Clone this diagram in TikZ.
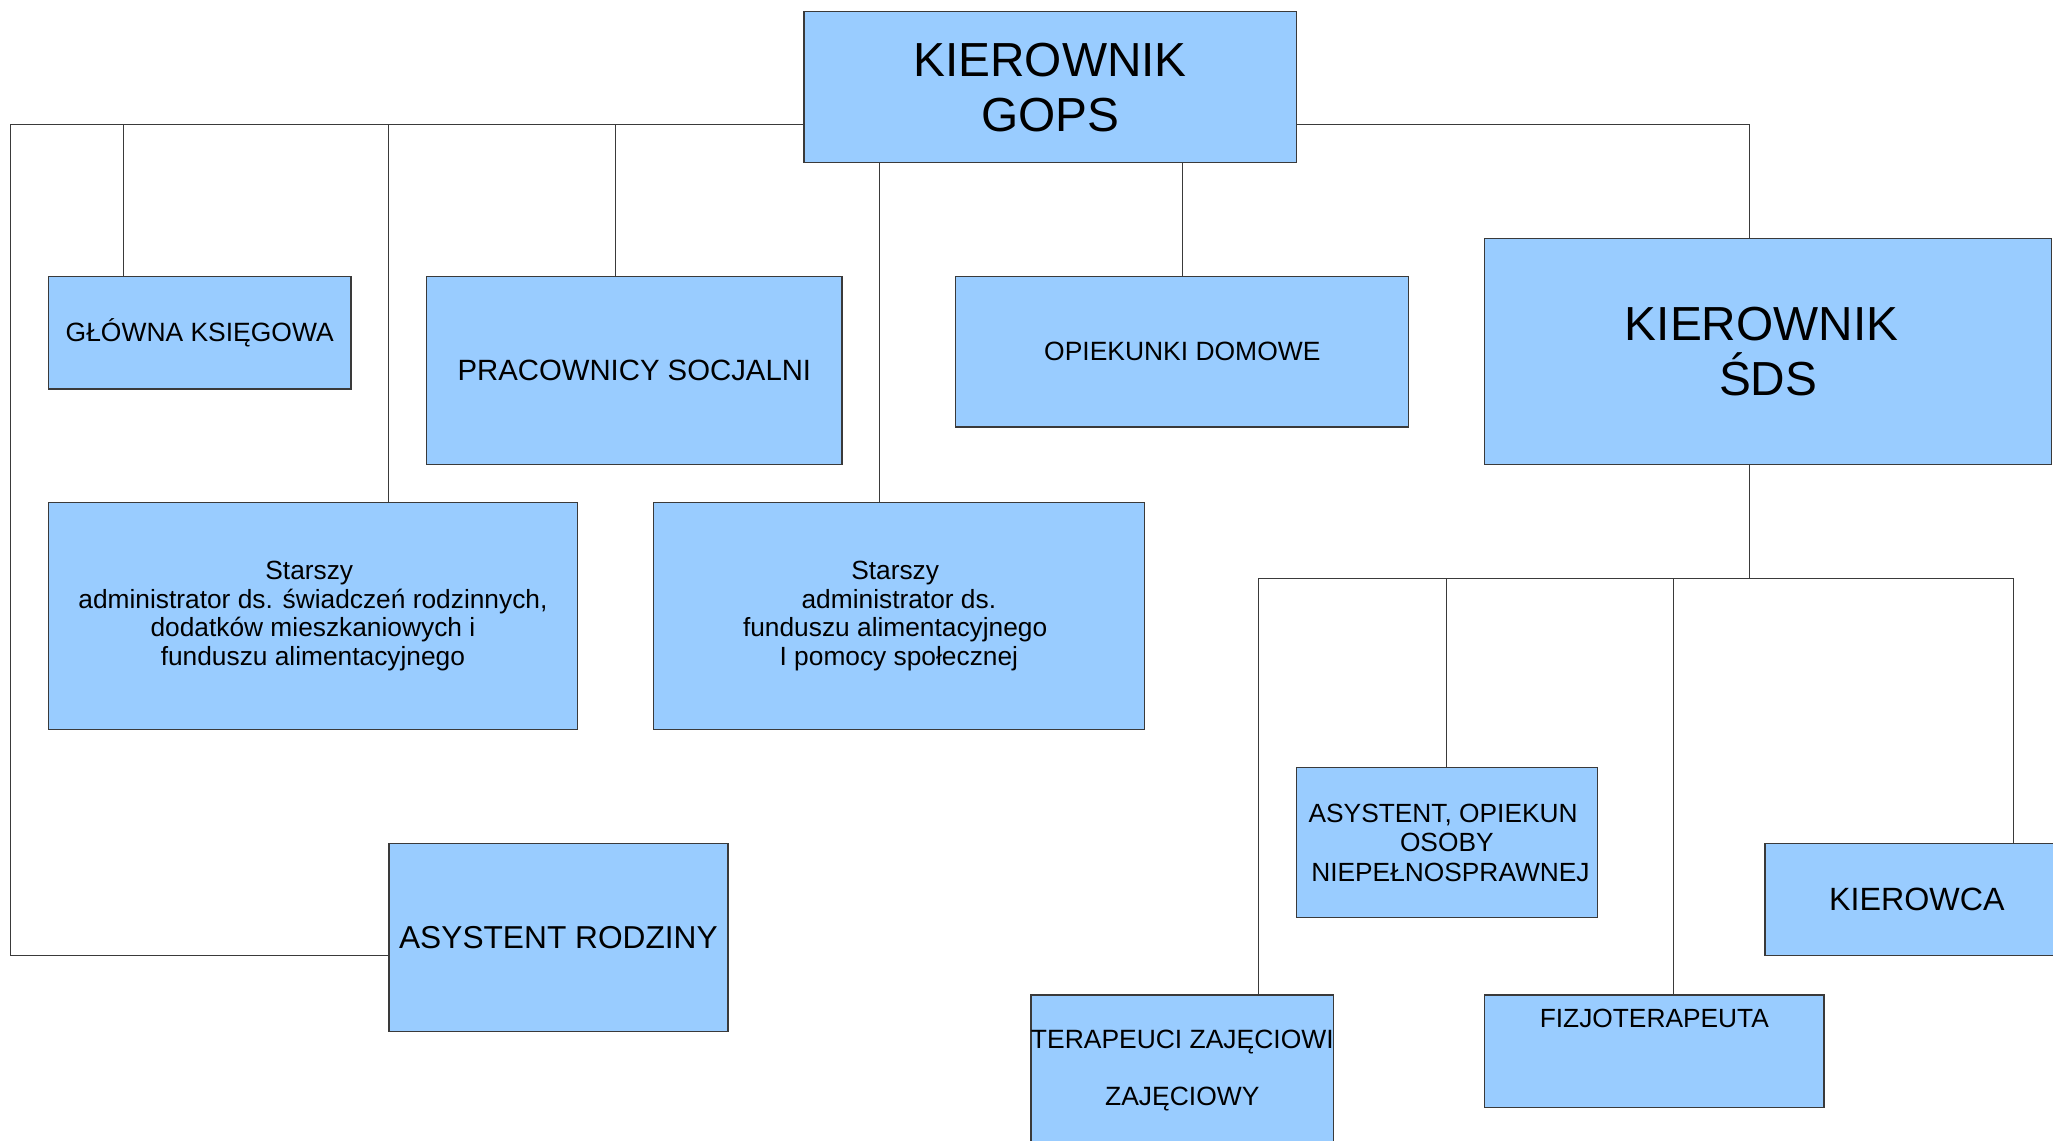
\documentclass[tikz,border=0pt]{standalone}
\usepackage{fontspec}
\setmainfont{Liberation Sans}
\usetikzlibrary{backgrounds}
\definecolor{boxblue}{HTML}{99CCFF}
\definecolor{edgegray}{HTML}{3A3A3A}
\begin{document}
\begin{tikzpicture}[x=1pt,y=-1pt,
  box/.style={draw=edgegray, line width=1pt, fill=boxblue, inner sep=0pt, outer sep=0pt, align=center, text=black},
  conn/.style={draw=edgegray, line width=0.8pt},
  txt/.style={inner sep=0pt, outer sep=0pt, align=center, text=black}]
\clip (0,0) rectangle (1568,870.7);
% boxes
\node[box, minimum width=376pt, minimum height=115pt, font=\fontsize{36.5}{42}\selectfont] (gops) at (802,66.5) {KIEROWNIK\\GOPS};
\node[box, minimum width=231pt, minimum height=86pt, font=\fontsize{20.2}{22}\selectfont] (glowna) at (152.5,254) {GŁÓWNA KSIĘGOWA};
\node[box, minimum width=317pt, minimum height=144pt, font=\fontsize{22.4}{25}\selectfont] (prac) at (484.5,283) {PRACOWNICY SOCJALNI};
\node[box, minimum width=346pt, minimum height=115pt, font=\fontsize{20.2}{22}\selectfont] (opiek) at (903,268.5) {OPIEKUNKI DOMOWE};
\node[box, minimum width=433pt, minimum height=173pt, font=\fontsize{36.5}{42}\selectfont] (sds) at (1350.5,268.5) {KIEROWNIK\kern10pt\\ŚDS};
\node[box, minimum width=404pt, minimum height=173pt, font=\fontsize{20.1}{22}\selectfont] (star1) at (239,470.5) {Starszy\kern5.6pt\\administrator ds. świadczeń rodzinnych,\\dodatków mieszkaniowych i\\funduszu alimentacyjnego};
\node[box, minimum width=375pt, minimum height=173pt, font=\fontsize{20.1}{22}\selectfont] (star2) at (686.5,470.5) {Starszy\kern5.6pt\\administrator ds.\\funduszu alimentacyjnego\kern5.6pt\\I pomocy społecznej};
\node[box, minimum width=259pt, minimum height=144pt, font=\fontsize{24.2}{27}\selectfont] (rodz) at (426.5,716) {ASYSTENT RODZINY};
\node[box, minimum width=230pt, minimum height=115pt, font=\fontsize{20.1}{22.5}\selectfont] (asyst) at (1105,643.5) {ASYSTENT, OPIEKUN\kern5.6pt\\OSOBY\\\kern5.6pt NIEPEŁNOSPRAWNEJ};
\node[box, minimum width=232pt, minimum height=86pt, font=\fontsize{24.6}{27}\selectfont] (kier) at (1464,687) {KIEROWCA};
\node[box, minimum width=230pt, minimum height=115pt, font=\fontsize{20.2}{21.5}\selectfont] (terap) at (903,817.5) {TERAPEUCI ZAJĘCIOWI\\[21.5pt]ZAJĘCIOWY};
\node[box, minimum width=259pt, minimum height=86pt] (fizjo) at (1263.5,803) {};
\node[txt, font=\fontsize{20.1}{22}\selectfont] (fizjot) at (1263.5,778) {FIZJOTERAPEUTA};
% connectors
\coordinate (busL) at (8,95);
\coordinate (busB) at (8,730);
\coordinate (d1) at (94,95);
\coordinate (d2) at (297,95);
\coordinate (d3) at (470,95);
\coordinate (d4) at (672,95);
\coordinate (d6) at (1336,95);
\coordinate (bus2) at (1336,442);
\coordinate (e1) at (961,442);
\coordinate (e2) at (1105,442);
\coordinate (e3) at (1278,442);
\coordinate (e4) at (1538,442);
\begin{scope}[on background layer]
\fill[white] (0,0) rectangle (1568,870.7);
\draw[conn] (gops.west |- busL) -- (busL) -- (busB) -- (rodz.west |- busB);
\draw[conn] (d1) -- (glowna.north -| d1);
\draw[conn] (d2) -- (star1.north -| d2);
\draw[conn] (d3) -- (prac.north -| d3);
\draw[conn] (gops.south -| d4) -- (star2.north -| d4);
\draw[conn] (gops.south -| opiek.north) -- (opiek.north);
\draw[conn] (gops.east |- d6) -- (d6) -- (sds.north -| d6);
\draw[conn] (sds.south -| bus2) -- (bus2);
\draw[conn] (e1) -- (e4);
\draw[conn] (e1) -- (terap.north -| e1);
\draw[conn] (e2) -- (asyst.north);
\draw[conn] (e3) -- (fizjo.north -| e3);
\draw[conn] (e4) -- (kier.north -| e4);
\end{scope}
\end{tikzpicture}
\end{document}
